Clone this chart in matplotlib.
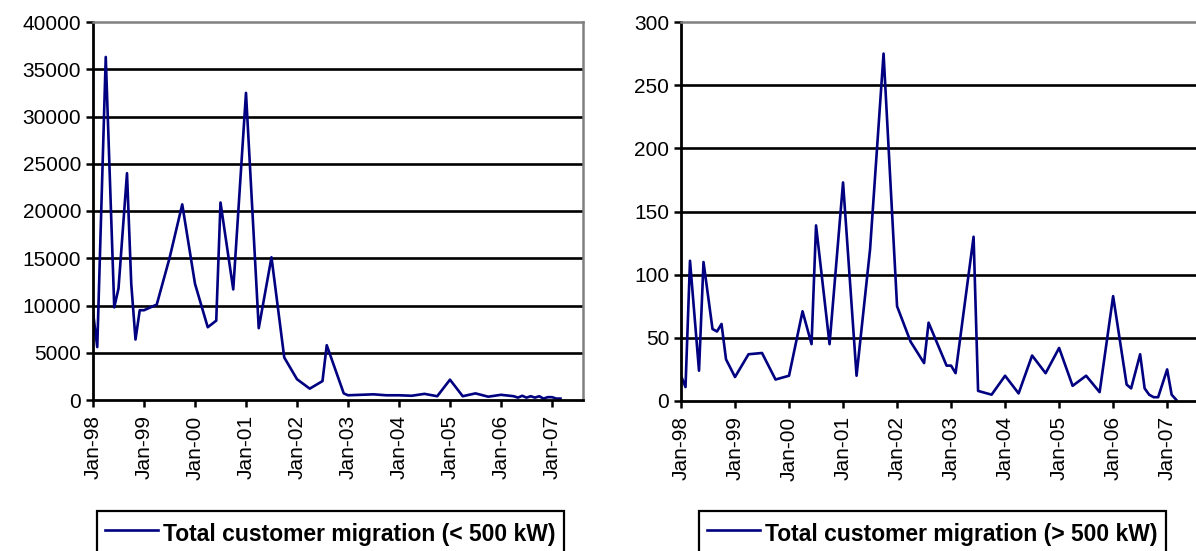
import matplotlib.pyplot as plt
from matplotlib.lines import Line2D

plt.rcParams['font.family'] = ['Liberation Sans', 'DejaVu Sans']

# ── Data ──────────────────────────────────────────────────────────────────────
# x values are months after Jan-98

small_months = [0, 1, 3, 5, 6, 8, 9, 10, 11, 12, 15, 18, 21, 24, 27, 29, 30, 33,
                36, 39, 42, 45, 48, 51, 54, 55, 59, 60, 66, 69, 72, 75, 78, 81,
                84, 87, 90, 93, 96, 99, 100, 101, 102, 103, 104, 105, 106, 107,
                108, 109, 110]
small_values = [9300, 5600, 36300, 9800, 11800, 24000, 12300, 6400, 9500, 9500,
                10100, 15000, 20700, 12300, 7700, 8400, 20900, 11700, 32500,
                7600, 15100, 4500, 2200, 1200, 2000, 5800, 700, 500, 600, 500,
                500, 450, 650, 400, 2150, 400, 700, 350, 550, 400, 250, 450, 250,
                400, 250, 400, 150, 300, 300, 150, 150]

large_months = [0, 1, 2, 4, 5, 7, 8, 9, 10, 12, 15, 18, 21, 24, 27, 29, 30, 33,
                36, 39, 42, 45, 48, 51, 54, 55, 59, 60, 61, 65, 66, 69, 72, 75,
                78, 81, 84, 87, 90, 93, 96, 99, 100, 102, 103, 104, 105, 106,
                108, 109, 110]
large_values = [20, 11, 111, 24, 110, 57, 55, 61, 33, 19, 37, 38, 17, 20, 71, 45,
                139, 45, 173, 20, 120, 275, 75, 47, 30, 62, 28, 28, 22, 130, 8, 5,
                20, 6, 36, 22, 42, 12, 20, 7, 83, 13, 10, 37, 10, 5, 3, 3, 25, 5, 1]

tick_months = [0, 12, 24, 36, 48, 60, 72, 84, 96, 108]
tick_labels = ["Jan-98", "Jan-99", "Jan-00", "Jan-01", "Jan-02",
               "Jan-03", "Jan-04", "Jan-05", "Jan-06", "Jan-07"]

legend_small = "Total customer migration (< 500 kW)"
legend_large = "Total customer migration (> 500 kW)"

# ── Figure ────────────────────────────────────────────────────────────────────

W, H = 1196, 551
fig = plt.figure(figsize=(W / 100, H / 100), dpi=100)

navy = "#000080"


def panel(rect, months, values, ymax, ystep, label, leg_x):
    ax = fig.add_axes(rect)
    ax.plot(months, values, color=navy, lw=1.9)
    ax.set_xlim(0, 115.3)
    ax.set_ylim(0, ymax)
    ax.set_yticks(range(0, ymax + 1, ystep))
    ax.set_xticks(tick_months)
    ax.set_xticklabels(tick_labels, rotation=90)
    ax.tick_params(axis="both", labelsize=15, direction="out",
                   length=5, width=1.8, color="black")
    ax.tick_params(axis="x", pad=6)
    for y in range(ystep, ymax, ystep):
        ax.axhline(y, color="black", lw=1.9, zorder=0)
    ax.spines["left"].set_linewidth(2.0)
    ax.spines["bottom"].set_linewidth(2.0)
    ax.spines["top"].set_color("#808080")
    ax.spines["right"].set_color("#808080")
    ax.spines["top"].set_linewidth(1.8)
    ax.spines["right"].set_linewidth(1.8)

    # legend box runs off the bottom edge in the original
    handle = Line2D([], [], color=navy, lw=1.9)
    leg = fig.legend([handle], [label], loc="upper left",
                     bbox_to_anchor=(leg_x / W, 1 - 511 / H),
                     prop={"size": 16.5, "weight": "bold"},
                     handlelength=2.3, handletextpad=0.25,
                     borderpad=0.35, borderaxespad=0, handleheight=1.6,
                     fancybox=False, framealpha=1)
    leg.get_frame().set_edgecolor("black")
    leg.get_frame().set_linewidth(1.6)
    return ax


panel([93 / W, 1 - 400 / H, 490 / W, 378 / H],
      small_months, small_values, 40000, 5000, legend_small, 97)
panel([681 / W, 1 - 401 / H, 519 / W, 379 / H],
      large_months, large_values, 300, 50, legend_large, 699)

plt.savefig("out.png", dpi=100)
